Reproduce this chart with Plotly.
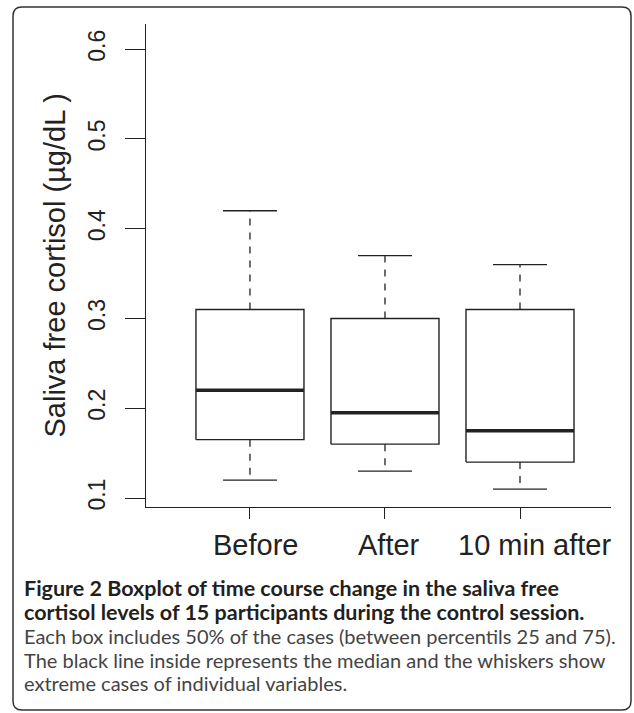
import plotly.graph_objects as go

# ---------------- data ----------------
categories = ["Before", "After", "10 min after"]
positions = [1, 2, 3]
whisker_low = [0.12, 0.13, 0.11]
q1 = [0.165, 0.16, 0.14]
median = [0.22, 0.195, 0.175]
q3 = [0.31, 0.30, 0.31]
whisker_high = [0.42, 0.37, 0.36]

y_ticks = [0.1, 0.2, 0.3, 0.4, 0.5, 0.6]
y_tick_labels = ["0.1", "0.2", "0.3", "0.4", "0.5", "0.6"]
y_title = "Saliva free cortisol (\u00b5g/dL )"

caption_bold = [
    "Figure 2 Boxplot of time course change in the saliva free",
    "cortisol levels of 15 participants during the control session.",
]
caption_regular = [
    "Each box includes 50% of the cases (between percentils 25 and 75).",
    "The black line inside represents the median and the whiskers show",
    "extreme cases of individual variables.",
]

# ---------------- layout geometry (pixels) ----------------
W, H = 634, 713
PL, PR, PT, PB = 146, 611, 24, 507  # plot area edges
BOX_HALF = 0.4
CAP_HALF = 0.2
LINE = "#222222"
AXIS_FONT = "Liberation Sans, Arial, Helvetica, sans-serif"
CAP_FONT = "Lato, Open Sans, sans-serif"


def pxx(p):
    return (p - PL) / (PR - PL)


def pxy(p):
    return (PB - p) / (PB - PT)


# ---------------- build marks from data ----------------
bx, by = [], []
mx, my = [], []
wx, wy = [], []
cx, cy = [], []
for p, lo, a, m, b, hi in zip(positions, whisker_low, q1, median, q3, whisker_high):
    bx += [p - BOX_HALF, p + BOX_HALF, p + BOX_HALF, p - BOX_HALF, p - BOX_HALF, None]
    by += [a, a, b, b, a, None]
    mx += [p - BOX_HALF, p + BOX_HALF, None]
    my += [m, m, None]
    wx += [p, p, None, p, p, None]
    wy += [b, hi, None, a, lo, None]
    cx += [p - CAP_HALF, p + CAP_HALF, None, p - CAP_HALF, p + CAP_HALF, None]
    cy += [hi, hi, None, lo, lo, None]

fig = go.Figure()
fig.add_trace(go.Scatter(x=wx, y=wy, mode="lines",
                         line=dict(color=LINE, width=1.3, dash="7px,7px"),
                         hoverinfo="skip"))
fig.add_trace(go.Scatter(x=cx, y=cy, mode="lines",
                         line=dict(color=LINE, width=1.3), hoverinfo="skip"))
fig.add_trace(go.Scatter(x=bx, y=by, mode="lines",
                         line=dict(color=LINE, width=1.4), hoverinfo="skip"))
fig.add_trace(go.Scatter(x=mx, y=my, mode="lines",
                         line=dict(color=LINE, width=3.6), hoverinfo="skip"))

# ---------------- annotations ----------------
ann = []
# y-axis title
ann.append(dict(text=y_title, xref="paper", yref="paper", x=pxx(54), y=0.5,
                xanchor="center", yanchor="middle", textangle=-90, showarrow=False,
                font=dict(family=AXIS_FONT, size=29, color=LINE)))
# category labels
label_shift = [6, 4, 14]
for p, c, s in zip(positions, categories, label_shift):
    ann.append(dict(text=c, xref="x", yref="paper", x=p, y=pxy(545), xshift=s,
                    xanchor="center", yanchor="middle", showarrow=False,
                    font=dict(family=AXIS_FONT, size=29, color=LINE)))
# caption
line_y = [588, 612, 636, 660, 683]
lines = [("<b>" + t + "</b>", "#231f20", 21.5) for t in caption_bold] + \
        [(t, "#444444", 20) for t in caption_regular]
for (t, col, sz), yy in zip(lines, line_y):
    ann.append(dict(text=t, xref="paper", yref="paper", x=pxx(22), y=pxy(yy),
                    xanchor="left", yanchor="middle", showarrow=False,
                    font=dict(family=CAP_FONT, size=sz, color=col)))

# rounded frame
L, R, T, B, r = 13, 631, 7, 710, 9
path = (f"M {pxx(L + r)},{pxy(T)} L {pxx(R - r)},{pxy(T)} "
        f"Q {pxx(R)},{pxy(T)} {pxx(R)},{pxy(T + r)} "
        f"L {pxx(R)},{pxy(B - r)} Q {pxx(R)},{pxy(B)} {pxx(R - r)},{pxy(B)} "
        f"L {pxx(L + r)},{pxy(B)} Q {pxx(L)},{pxy(B)} {pxx(L)},{pxy(B - r)} "
        f"L {pxx(L)},{pxy(T + r)} Q {pxx(L)},{pxy(T)} {pxx(L + r)},{pxy(T)} Z")

fig.update_layout(
    width=W, height=H, autosize=False,
    margin=dict(l=PL, r=W - PR, t=PT, b=H - PB, pad=0),
    paper_bgcolor="white", plot_bgcolor="white",
    showlegend=False, hovermode=False,
    annotations=ann,
    shapes=[dict(type="path", path=path, xref="paper", yref="paper",
                 line=dict(color="#333333", width=1.5), fillcolor="rgba(0,0,0,0)",
                 layer="above")],
    xaxis=dict(range=[0.23, 3.674], showgrid=False, zeroline=False,
               showline=True, linecolor=LINE, linewidth=1.3,
               ticks="outside", ticklen=11, tickwidth=1.3, tickcolor=LINE,
               tickvals=positions, showticklabels=False, fixedrange=True),
    yaxis=dict(range=[0.090, 0.628], showgrid=False, zeroline=False,
               showline=True, linecolor=LINE, linewidth=1.3,
               ticks="outside", ticklen=20, tickwidth=1.3, tickcolor=LINE,
               tickvals=y_ticks, ticktext=y_tick_labels, tickangle=-90,
               ticklabelstandoff=11,
               tickfont=dict(family=AXIS_FONT, size=23, color=LINE),
               fixedrange=True),
)

fig.write_html("out.html")
